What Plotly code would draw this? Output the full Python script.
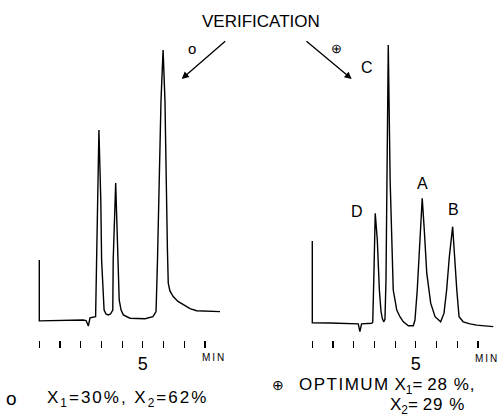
import plotly.graph_objects as go

# ---- data (time in min, detector signal in arbitrary units) ----
left_t = [0.00, 0.00, 2.11, 2.26, 2.37, 2.40, 2.45, 2.72, 2.77, 2.88, 2.97, 3.01, 3.13, 3.22,
          3.33, 3.44, 3.55, 3.57, 3.69, 3.79, 3.86, 3.95, 4.06, 4.38, 5.11, 5.49, 5.64, 5.71,
          5.88, 5.98, 6.07, 6.19, 6.23, 6.31, 6.47, 6.70, 6.96, 7.28, 7.60, 8.25, 8.73]
left_s = [20.0, -0.3, 0.0, -0.2, -2.0, -0.3, 0.7, 1.1, 20.0, 63.3, 40.0, 20.0, 3.3, 2.0,
          1.7, 2.0, 3.3, 20.0, 45.7, 20.0, 6.7, 3.3, 1.7, 0.6, 0.4, 1.1, 2.8, 20.0,
          73.3, 90.0, 73.3, 23.3, 12.3, 9.7, 7.8, 6.2, 5.0, 3.8, 3.1, 2.8, 2.8]

right_t = [0.00, 0.00, 0.86, 1.58, 2.22, 2.30, 2.38, 2.87, 2.92, 2.97, 3.04, 3.14, 3.24, 3.32,
           3.39, 3.46, 3.51, 3.56, 3.62, 3.67, 3.76, 3.91, 4.08, 4.24, 4.40, 4.64, 4.88, 4.96,
           5.07, 5.17, 5.31, 5.41, 5.53, 5.72, 5.93, 6.20, 6.36, 6.49, 6.62, 6.78, 6.86, 6.98,
           7.09, 7.29, 7.62, 7.94, 8.74]
right_s = [26.3, -0.9, -1.0, -1.2, -1.3, -3.9, -1.3, -1.1, -0.7, 13.3, 35.6, 26.7, 10.0, 2.8,
           0.3, -0.6, 0.3, 13.3, 46.7, 91.7, 46.7, 10.0, 3.3, 1.0, -0.6, -1.9, -1.9, 0.0,
           10.0, 24.4, 40.6, 30.0, 15.6, 5.6, 1.1, -0.6, 2.2, 10.0, 21.1, 31.1, 22.2, 10.0,
           1.1, -0.6, -1.3, -1.7, -2.2]

tick_vals = [0, 1, 2, 3, 4, 5, 6, 7, 8]
tick_text = ["", "", "", "", "", "5", "", "", ""]

W, H = 500, 420
FONT = "Liberation Sans"


def P(x, y):
    return x / W, 1 - y / H


fig = go.Figure()
fig.add_trace(go.Scatter(x=left_t, y=left_s, mode="lines", xaxis="x", yaxis="y",
                         line=dict(color="black", width=1.4), hoverinfo="skip"))
fig.add_trace(go.Scatter(x=right_t, y=right_s, mode="lines", xaxis="x2", yaxis="y",
                         line=dict(color="black", width=1.4), hoverinfo="skip"))

xa = dict(showline=False, showgrid=False, zeroline=False, ticks="outside", ticklen=7,
          tickwidth=1.2, tickcolor="black", tickvals=tick_vals, ticktext=tick_text,
          tickfont=dict(family=FONT, size=18, color="black"), fixedrange=True)

fig.update_layout(
    width=W, height=H, margin=dict(l=0, r=0, t=0, b=0),
    paper_bgcolor="white", plot_bgcolor="white", showlegend=False,
    xaxis=dict(domain=[0, 0.5], range=[-39.3 / 20.7, (250 - 39.3) / 20.7], anchor="y", **xa),
    xaxis2=dict(domain=[0.5, 1], range=[-(312.3 - 250) / 20.7, (500 - 312.3) / 20.7], anchor="y", **xa),
    yaxis=dict(domain=[80 / 420, 1], range=[(320 - 340) / 3, 320 / 3], visible=False, fixedrange=True),
)

ann = []


def text(x, y, s, size, xanchor="center", family=FONT):
    px, py = P(x, y)
    ann.append(dict(x=px, y=py, xref="paper", yref="paper", text=s, showarrow=False,
                    xanchor=xanchor, yanchor="middle",
                    font=dict(family=family, size=size, color="black")))


def arrow(x_tail, y_tail, x_head, y_head):
    px, py = P(x_head, y_head)
    ann.append(dict(x=px, y=py, xref="paper", yref="paper", ax=x_tail - x_head, ay=y_tail - y_head,
                    axref="pixel", ayref="pixel", text="", showarrow=True, arrowhead=2,
                    arrowsize=1.1, arrowwidth=1.3, arrowcolor="black"))


def spaced(s, px):
    return "<span style='letter-spacing:%spx'>%s</span>" % (px, s)


text(261, 21, "VERIFICATION", 17)
arrow(226.7, 40, 181.7, 79)
arrow(305, 40, 351.7, 79)
text(192, 48, "o", 15)
text(336, 48, "⊕", 13)
text(367, 68, "C", 16)
text(357, 211, "D", 16)
text(422, 183, "A", 16)
text(453, 209, "B", 16)
text(214, 357, spaced("MIN", 2), 10)
text(487, 358, spaced("MIN", 2), 10)
text(11, 398, "o", 19)
text(45, 399, spaced("X<sub>1</sub>=30%, X<sub>2</sub>=62%", 2), 17, xanchor="left")
text(278, 385, "⊕", 14)
text(297, 386, spaced("OPTIMUM", 1.5) + " X<sub>1</sub>= " + spaced("28 %,", 1), 17, xanchor="left")
text(388, 406, "X<sub>2</sub>= " + spaced("29 %", 1), 17, xanchor="left")
fig.update_layout(annotations=ann)

fig.write_html("out.html", config={"displayModeBar": False, "staticPlot": True},
               post_script="document.body.style.margin='0';document.body.style.overflow='hidden';")
